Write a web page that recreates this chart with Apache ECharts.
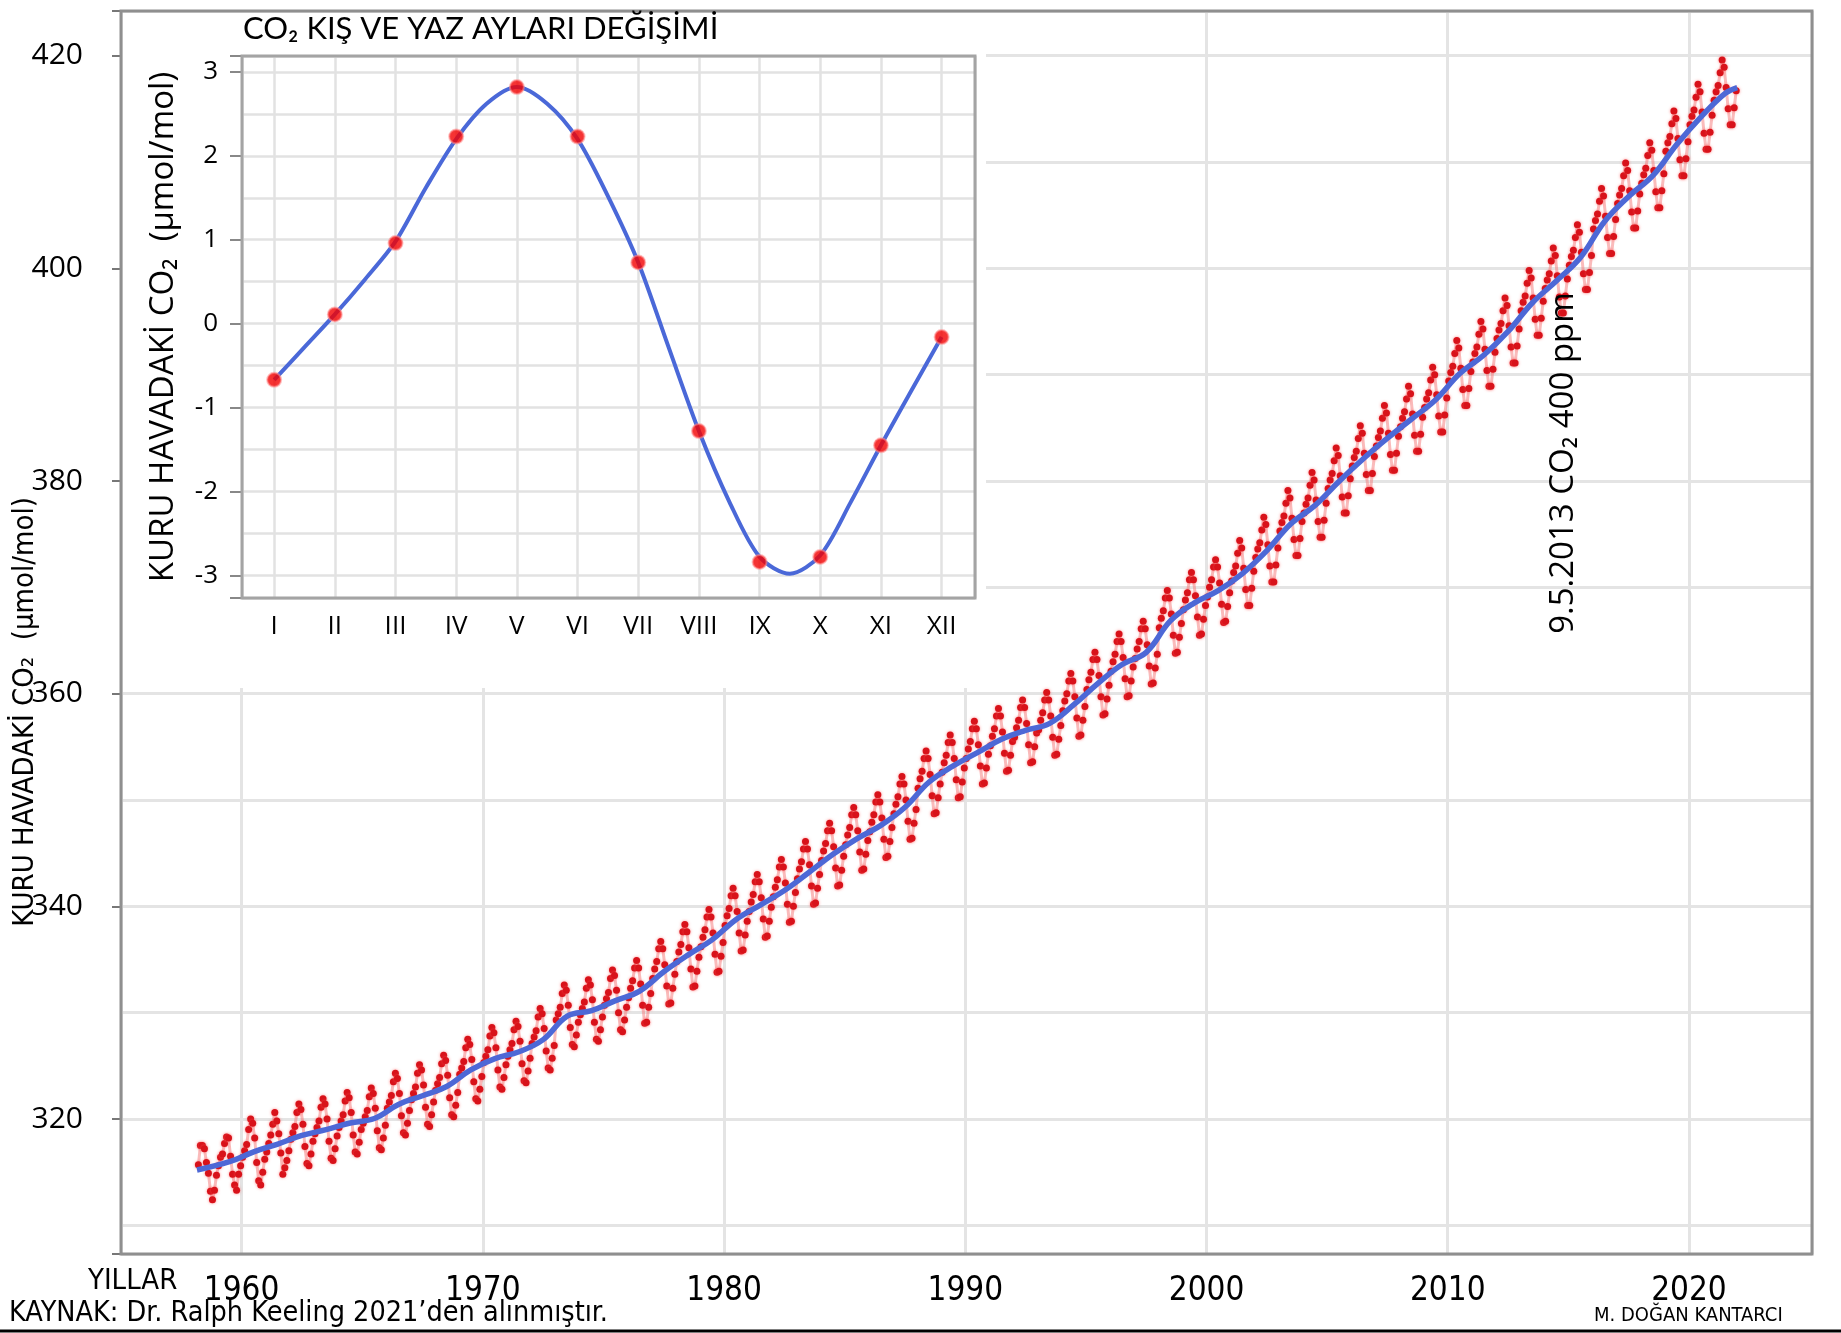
<!DOCTYPE html>
<html lang="tr">
<head>
<meta charset="UTF-8">
<title>CO2 Keeling eğrisi</title>
<script src="https://cdn.jsdelivr.net/npm/echarts@6/dist/echarts.min.js"></script>
<style>
  html, body { margin: 0; padding: 0; background: #fff; }
  #main { width: 1841px; height: 1333px; }
</style>
</head>
<body>
<div id="main"></div>
<script>
// aylık CO2 (ppm), satır = yıl (1958'den), sütun = Ocak..Aralık
var firstYear = 1958;
var co2Monthly = [
  [null, null, 315.7, 317.5, 317.5, 317.2, 315.9, 314.9, 313.2, 312.4, 313.3, 314.7],
  [315.6, 316.4, 316.7, 317.7, 318.3, 318.2, 316.5, 314.8, 313.8, 313.3, 314.8, 315.6],
  [316.4, 317.0, 317.6, 319.0, 320.0, 319.6, 318.2, 315.9, 314.2, 313.8, 315.0, 316.2],
  [316.9, 317.7, 318.5, 319.5, 320.6, 319.8, 318.6, 316.8, 314.8, 315.4, 316.1, 317.0],
  [318.1, 318.7, 319.3, 320.6, 321.4, 320.9, 319.5, 317.4, 315.8, 315.6, 316.7, 317.9],
  [318.6, 319.2, 319.8, 321.1, 321.9, 321.4, 320.0, 317.9, 316.3, 316.1, 317.2, 318.4],
  [319.2, 319.8, 320.4, 321.7, 322.5, 322.0, 320.6, 318.5, 316.9, 316.7, 317.8, 319.0],
  [319.6, 320.2, 320.8, 322.1, 322.9, 322.4, 321.0, 318.9, 317.3, 317.1, 318.2, 319.4],
  [321.0, 321.6, 322.2, 323.5, 324.3, 323.8, 322.4, 320.3, 318.7, 318.5, 319.6, 320.8],
  [321.8, 322.4, 323.0, 324.3, 325.1, 324.6, 323.2, 321.1, 319.5, 319.3, 320.4, 321.6],
  [322.7, 323.3, 323.9, 325.2, 326.0, 325.5, 324.1, 322.0, 320.4, 320.2, 321.3, 322.5],
  [324.2, 324.8, 325.4, 326.7, 327.5, 327.0, 325.6, 323.5, 321.9, 321.7, 322.8, 324.0],
  [325.3, 325.9, 326.5, 327.8, 328.6, 328.1, 326.7, 324.6, 323.0, 322.8, 323.9, 325.1],
  [325.9, 326.5, 327.1, 328.4, 329.2, 328.7, 327.3, 325.2, 323.6, 323.4, 324.5, 325.7],
  [327.1, 327.7, 328.3, 329.6, 330.4, 329.9, 328.5, 326.4, 324.8, 324.6, 325.7, 326.9],
  [329.3, 329.9, 330.5, 331.8, 332.6, 332.1, 330.7, 328.6, 327.0, 326.8, 327.9, 329.1],
  [329.8, 330.4, 331.0, 332.3, 333.1, 332.6, 331.2, 329.1, 327.5, 327.3, 328.4, 329.6],
  [330.7, 331.3, 331.9, 333.2, 334.0, 333.5, 332.1, 330.0, 328.4, 328.2, 329.3, 330.5],
  [331.4, 332.3, 333.0, 334.2, 334.9, 334.2, 332.7, 330.7, 329.0, 329.1, 330.5, 331.8],
  [333.2, 334.1, 334.8, 336.0, 336.7, 336.0, 334.5, 332.5, 330.8, 330.9, 332.3, 333.6],
  [334.8, 335.7, 336.4, 337.6, 338.3, 337.6, 336.1, 334.1, 332.4, 332.5, 333.9, 335.2],
  [336.2, 337.1, 337.8, 339.0, 339.7, 339.0, 337.5, 335.5, 333.8, 333.9, 335.3, 336.6],
  [338.2, 339.1, 339.8, 341.0, 341.7, 341.0, 339.5, 337.5, 335.8, 335.9, 337.3, 338.6],
  [339.5, 340.4, 341.1, 342.3, 343.0, 342.3, 340.8, 338.8, 337.1, 337.2, 338.6, 339.9],
  [340.9, 341.8, 342.5, 343.7, 344.4, 343.7, 342.2, 340.2, 338.5, 338.6, 340.0, 341.3],
  [342.6, 343.5, 344.2, 345.4, 346.1, 345.4, 343.9, 341.9, 340.2, 340.3, 341.7, 343.0],
  [344.3, 345.2, 345.9, 347.1, 347.8, 347.1, 345.6, 343.6, 341.9, 342.0, 343.4, 344.7],
  [345.8, 346.7, 347.4, 348.6, 349.3, 348.6, 347.1, 345.1, 343.4, 343.5, 344.9, 346.2],
  [347.0, 347.9, 348.6, 349.8, 350.5, 349.8, 348.3, 346.3, 344.6, 344.7, 346.1, 347.4],
  [348.7, 349.6, 350.3, 351.5, 352.2, 351.5, 350.0, 348.0, 346.3, 346.4, 347.8, 349.1],
  [351.1, 352.0, 352.7, 353.9, 354.6, 353.9, 352.4, 350.4, 348.7, 348.8, 350.2, 351.5],
  [352.6, 353.5, 354.2, 355.4, 356.1, 355.4, 353.9, 351.9, 350.2, 350.3, 351.7, 353.0],
  [353.9, 354.8, 355.5, 356.7, 357.4, 356.7, 355.2, 353.2, 351.5, 351.6, 353.0, 354.3],
  [355.1, 356.0, 356.7, 357.9, 358.6, 357.9, 356.4, 354.4, 352.7, 352.8, 354.2, 355.5],
  [355.9, 356.8, 357.5, 358.7, 359.4, 358.7, 357.2, 355.2, 353.5, 353.6, 355.0, 356.3],
  [356.6, 357.5, 358.2, 359.4, 360.1, 359.4, 357.9, 355.9, 354.2, 354.3, 355.7, 357.0],
  [358.4, 359.3, 360.0, 361.2, 361.9, 361.2, 359.7, 357.7, 356.0, 356.1, 357.5, 358.8],
  [360.4, 361.3, 362.0, 363.2, 363.9, 363.2, 361.7, 359.7, 358.0, 358.1, 359.5, 360.8],
  [362.1, 363.0, 363.7, 364.9, 365.6, 364.9, 363.4, 361.4, 359.7, 359.8, 361.2, 362.5],
  [363.3, 364.2, 364.9, 366.1, 366.8, 366.1, 364.6, 362.6, 360.9, 361.0, 362.4, 363.7],
  [366.2, 367.1, 367.8, 369.0, 369.7, 369.0, 367.5, 365.5, 363.8, 363.9, 365.3, 366.6],
  [367.9, 368.8, 369.5, 370.7, 371.4, 370.7, 369.2, 367.2, 365.5, 365.6, 367.0, 368.3],
  [369.1, 370.0, 370.7, 371.9, 372.6, 371.9, 370.4, 368.4, 366.7, 366.8, 368.2, 369.5],
  [370.6, 371.4, 372.0, 373.2, 374.4, 373.7, 371.8, 369.8, 368.3, 368.3, 369.9, 371.5],
  [372.8, 373.6, 374.2, 375.4, 376.6, 375.9, 374.0, 372.0, 370.5, 370.5, 372.1, 373.7],
  [375.3, 376.1, 376.7, 377.9, 379.1, 378.4, 376.5, 374.5, 373.0, 373.0, 374.6, 376.2],
  [377.0, 377.8, 378.4, 379.6, 380.8, 380.1, 378.2, 376.2, 374.7, 374.7, 376.3, 377.9],
  [379.3, 380.1, 380.7, 381.9, 383.1, 382.4, 380.5, 378.5, 377.0, 377.0, 378.6, 380.2],
  [381.4, 382.2, 382.8, 384.0, 385.2, 384.5, 382.6, 380.6, 379.1, 379.1, 380.7, 382.3],
  [383.3, 384.1, 384.7, 385.9, 387.1, 386.4, 384.5, 382.5, 381.0, 381.0, 382.6, 384.2],
  [385.1, 385.9, 386.5, 387.7, 388.9, 388.2, 386.3, 384.3, 382.8, 382.8, 384.4, 386.0],
  [386.9, 387.7, 388.3, 389.5, 390.7, 390.0, 388.1, 386.1, 384.6, 384.6, 386.2, 387.8],
  [389.4, 390.2, 390.8, 392.0, 393.2, 392.5, 390.6, 388.6, 387.1, 387.1, 388.7, 390.3],
  [391.2, 392.0, 392.6, 393.8, 395.0, 394.3, 392.4, 390.4, 388.9, 388.9, 390.5, 392.1],
  [393.4, 394.2, 394.8, 396.0, 397.2, 396.5, 394.6, 392.6, 391.1, 391.1, 392.7, 394.3],
  [396.0, 396.8, 397.4, 398.6, 399.8, 399.1, 397.2, 395.2, 393.7, 393.7, 395.3, 396.9],
  [398.1, 398.9, 399.5, 400.7, 401.9, 401.2, 399.3, 397.3, 395.8, 395.8, 397.4, 399.0],
  [400.3, 401.1, 401.7, 402.9, 404.1, 403.4, 401.5, 399.5, 398.0, 398.0, 399.6, 401.2],
  [403.7, 404.5, 405.1, 406.3, 407.5, 406.8, 404.9, 402.9, 401.4, 401.4, 403.0, 404.6],
  [406.1, 406.9, 407.5, 408.7, 409.9, 409.2, 407.3, 405.3, 403.8, 403.8, 405.4, 407.0],
  [408.0, 408.8, 409.4, 410.6, 411.8, 411.1, 409.2, 407.2, 405.7, 405.7, 407.3, 408.9],
  [411.0, 411.8, 412.4, 413.6, 414.8, 414.1, 412.2, 410.2, 408.7, 408.7, 410.3, 411.9],
  [413.5, 414.3, 414.9, 416.1, 417.3, 416.6, 414.7, 412.7, 411.2, 411.2, 412.8, 414.4],
  [415.8, 416.6, 417.2, 418.4, 419.6, 418.9, 417.0, 415.0, 413.5, 413.5, 415.1, 416.7]
];

// mavi eğilim çizgisi (yıllık ortalamalar)
var trendYears = [1958.15,
  1959.5, 1960.5, 1961.5, 1962.5, 1963.5, 1964.5, 1965.5, 1966.5, 1967.5, 1968.5,
  1969.5, 1970.5, 1971.5, 1972.5, 1973.5, 1974.5, 1975.5, 1976.5, 1977.5, 1978.5,
  1979.5, 1980.5, 1981.5, 1982.5, 1983.5, 1984.5, 1985.5, 1986.5, 1987.5, 1988.5,
  1989.5, 1990.5, 1991.5, 1992.5, 1993.5, 1994.5, 1995.5, 1996.5, 1997.5, 1998.5,
  1999.5, 2000.5, 2001.5, 2002.5, 2003.5, 2004.5, 2005.5, 2006.5, 2007.5, 2008.5,
  2009.5, 2010.5, 2011.5, 2012.5, 2013.5, 2014.5, 2015.5, 2016.5, 2017.5, 2018.5,
  2019.5, 2020.5, 2021.5, 2022.0];
var trendValues = [315.2,
  315.98, 316.91, 317.64, 318.45, 318.99, 319.62, 320.04, 321.37, 322.18, 323.05,
  324.62, 325.68, 326.32, 327.46, 329.68, 330.19, 331.13, 332.03, 333.84, 335.41,
  336.84, 338.76, 340.12, 341.48, 343.15, 344.87, 346.35, 347.61, 349.31, 351.69,
  353.20, 354.45, 355.70, 356.54, 357.21, 358.96, 360.97, 362.74, 363.88, 366.84,
  368.54, 369.71, 371.32, 373.45, 375.98, 377.70, 379.98, 382.09, 384.02, 385.83,
  387.64, 390.10, 391.85, 394.06, 396.74, 398.81, 401.01, 404.41, 406.76, 408.72,
  411.66, 414.24, 416.45, 417.0];

// iç grafik: mevsimsel değişim (noktalar)
var monthLabels = ['I', 'II', 'III', 'IV', 'V', 'VI', 'VII', 'VIII', 'IX', 'X', 'XI', 'XII'];
var monthNumbers = [1, 2, 3, 4, 5, 6, 7, 8, 9, 10, 11, 12];
var seasonalValues = [-0.67, 0.11, 0.96, 2.23, 2.82, 2.23, 0.73, -1.28, -2.84, -2.78, -1.45, -0.16];

// iç grafik: mavi eğri, yarım ay aralıklarla okunmuş
var curveMonths = [1, 1.5, 2, 2.5, 3, 3.5, 4, 4.5, 5, 5.5, 6, 6.5,
                   7, 7.5, 8, 8.5, 9, 9.5, 10, 10.5, 11, 11.5, 12];
var curveValues = [-0.67, -0.28, 0.11, 0.53, 0.98, 1.62, 2.20, 2.62, 2.82, 2.62, 2.20, 1.52,
                   0.73, -0.28, -1.28, -2.12, -2.78, -2.98, -2.76, -2.13, -1.45, -0.80, -0.16];

var narrow = '"Liberation Sans Narrow", "DejaVu Sans Condensed", sans-serif';
var sans = '"Open Sans", sans-serif';

var monthlyData = [];
for (var i = 0; i < co2Monthly.length; i++) {
    for (var m = 0; m < 12; m++) {
        if (co2Monthly[i][m] !== null) {
            monthlyData.push([firstYear + i + (m + 0.5) / 12, co2Monthly[i][m]]);
        }
    }
}
var trendData = trendYears.map(function (y, i) { return [y, trendValues[i]]; });
var seasonData = monthNumbers.map(function (n, i) { return [n, seasonalValues[i]]; });
var curveData = curveMonths.map(function (n, i) { return [n, curveValues[i]]; });

function stepLabel(step) {
    return function (v) {
        var r = Math.round(v / step) * step;
        return Math.abs(v - r) < 1e-6 ? String(r) : '';
    };
}

var myChart = echarts.init(document.getElementById('main'));

var option = {
    animation: false,
    backgroundColor: '#fff',
    grid: [
        {left: 121, top: 11, width: 1691, height: 1243, show: true, z: 1,
         borderColor: '#8f8f8f', borderWidth: 3, backgroundColor: 'transparent'},
        {left: 242, top: 56, width: 733, height: 542, show: true, z: 12,
         borderColor: '#a4a4a4', borderWidth: 3, backgroundColor: 'transparent'}
    ],
    xAxis: [
        {gridIndex: 0, type: 'value', min: 1955, max: 2025.1, splitNumber: 7,
         axisLine: {show: false}, axisTick: {show: false},
         axisLabel: {formatter: stepLabel(10), fontFamily: narrow, fontSize: 33, color: '#000', margin: 21},
         splitLine: {lineStyle: {color: '#e4e4e4', width: 3}}},
        {gridIndex: 1, type: 'value', min: 0.47, max: 12.55, splitNumber: 12, z: 11,
         axisLine: {show: false}, axisTick: {show: false},
         axisLabel: {
             formatter: function (v) {
                 var r = Math.round(v);
                 return Math.abs(v - r) < 1e-6 && r >= 1 && r <= 12 ? monthLabels[r - 1] : '';
             },
             fontFamily: sans, fontSize: 26, color: '#000', margin: 16},
         splitLine: {lineStyle: {color: '#e2e2e2', width: 2.5}}}
    ],
    yAxis: [
        {gridIndex: 0, type: 'value', min: 307.3, max: 424.2, splitNumber: 12,
         axisLine: {show: false}, axisTick: {show: false}, axisLabel: {show: false},
         splitLine: {lineStyle: {color: '#e4e4e4', width: 3}}},
        {gridIndex: 0, type: 'value', min: 307.3, max: 424.2, splitNumber: 6, position: 'left',
         axisLine: {show: false},
         axisTick: {show: true, length: 9, lineStyle: {color: '#777', width: 2}},
         axisLabel: {formatter: stepLabel(20), fontFamily: sans, fontSize: 30, color: '#000', margin: 38},
         splitLine: {show: false}},
        {gridIndex: 1, type: 'value', min: -3.27, max: 3.19, splitNumber: 13, z: 11,
         axisLine: {show: false}, axisTick: {show: false}, axisLabel: {show: false},
         splitLine: {lineStyle: {color: '#e2e2e2', width: 2.5}}},
        {gridIndex: 1, type: 'value', min: -3.27, max: 3.19, splitNumber: 6, position: 'left', z: 11,
         axisLine: {show: false},
         axisTick: {show: true, length: 12, lineStyle: {color: '#888', width: 2}},
         axisLabel: {formatter: stepLabel(1), fontFamily: sans, fontSize: 26, color: '#000', margin: 24},
         splitLine: {show: false}}
    ],
    series: [
        {
            name: 'aylık', type: 'line', xAxisIndex: 0, yAxisIndex: 0, z: 2,
            data: monthlyData,
            symbol: 'circle', symbolSize: 7, showAllSymbol: true,
            itemStyle: {color: '#d8121a', shadowBlur: 3, shadowColor: 'rgba(255,90,90,0.7)'},
            lineStyle: {color: 'rgba(245,120,120,0.5)', width: 3}
        },
        {
            name: 'eğilim', type: 'line', xAxisIndex: 0, yAxisIndex: 0, z: 3,
            data: trendData, smooth: 0.4, showSymbol: false,
            lineStyle: {color: '#4d68d6', width: 5.5}
        },
        {
            name: 'mevsim eğrisi', type: 'line', xAxisIndex: 1, yAxisIndex: 2, z: 13,
            data: curveData, smooth: 0.3, showSymbol: false,
            lineStyle: {color: '#4a68d8', width: 4},
            markLine: {
                silent: true, symbol: 'none', label: {show: false},
                lineStyle: {color: '#000', width: 3.5, type: 'solid'},
                data: [{yAxis: 0}]
            }
        },
        {
            name: 'mevsim', type: 'scatter', xAxisIndex: 1, yAxisIndex: 2, z: 14,
            data: seasonData, symbolSize: 14,
            itemStyle: {color: '#f20000', borderColor: 'rgba(255,140,140,0.7)', borderWidth: 2}
        }
    ],
    graphic: [
        {type: 'rect', z: 9, silent: true,
         shape: {x: 123, y: 13, width: 863, height: 675}, style: {fill: '#fff'}},
        {type: 'text', z: 20, x: 243, y: 29,
         style: {text: 'CO₂ KIŞ VE YAZ AYLARI DEĞİŞİMİ', fontFamily: 'Lato, sans-serif', fontSize: 31,
                 fill: '#000', align: 'left', verticalAlign: 'middle'}},
        {type: 'text', z: 20, x: 164, y: 327, rotation: Math.PI / 2,
         style: {text: 'KURU HAVADAKİ CO₂  (µmol/mol)', fontFamily: sans, fontSize: 33,
                 fill: '#000', align: 'center', verticalAlign: 'middle'}},
        {type: 'text', z: 20, x: 25, y: 712, rotation: Math.PI / 2,
         style: {text: 'KURU HAVADAKİ CO₂  (µmol/mol)', fontFamily: narrow, fontSize: 29,
                 fill: '#000', align: 'center', verticalAlign: 'middle'}},
        {type: 'text', z: 20, x: 1564, y: 463, rotation: Math.PI / 2,
         style: {text: '9.5.2013 CO₂ 400 ppm', fontFamily: sans, fontSize: 33,
                 fill: '#000', align: 'center', verticalAlign: 'middle'}},
        {type: 'text', z: 20, x: 88, y: 1281,
         style: {text: 'YILLAR', fontFamily: narrow, fontSize: 29,
                 fill: '#000', align: 'left', verticalAlign: 'middle'}},
        {type: 'text', z: 20, x: 9, y: 1314,
         style: {text: 'KAYNAK: Dr. Ralph Keeling 2021’den alınmıştır.', fontFamily: narrow, fontSize: 28.5,
                 fill: '#000', align: 'left', verticalAlign: 'middle'}},
        {type: 'text', z: 20, x: 1594, y: 1316,
         style: {text: 'M. DOĞAN KANTARCI', fontFamily: narrow, fontSize: 20,
                 fill: '#000', align: 'left', verticalAlign: 'middle'}},
        {type: 'line', z: 20, silent: true,
         shape: {x1: 0, y1: 1331, x2: 1841, y2: 1331}, style: {stroke: '#000', lineWidth: 3}}
    ]
};

myChart.setOption(option);
</script>
</body>
</html>
